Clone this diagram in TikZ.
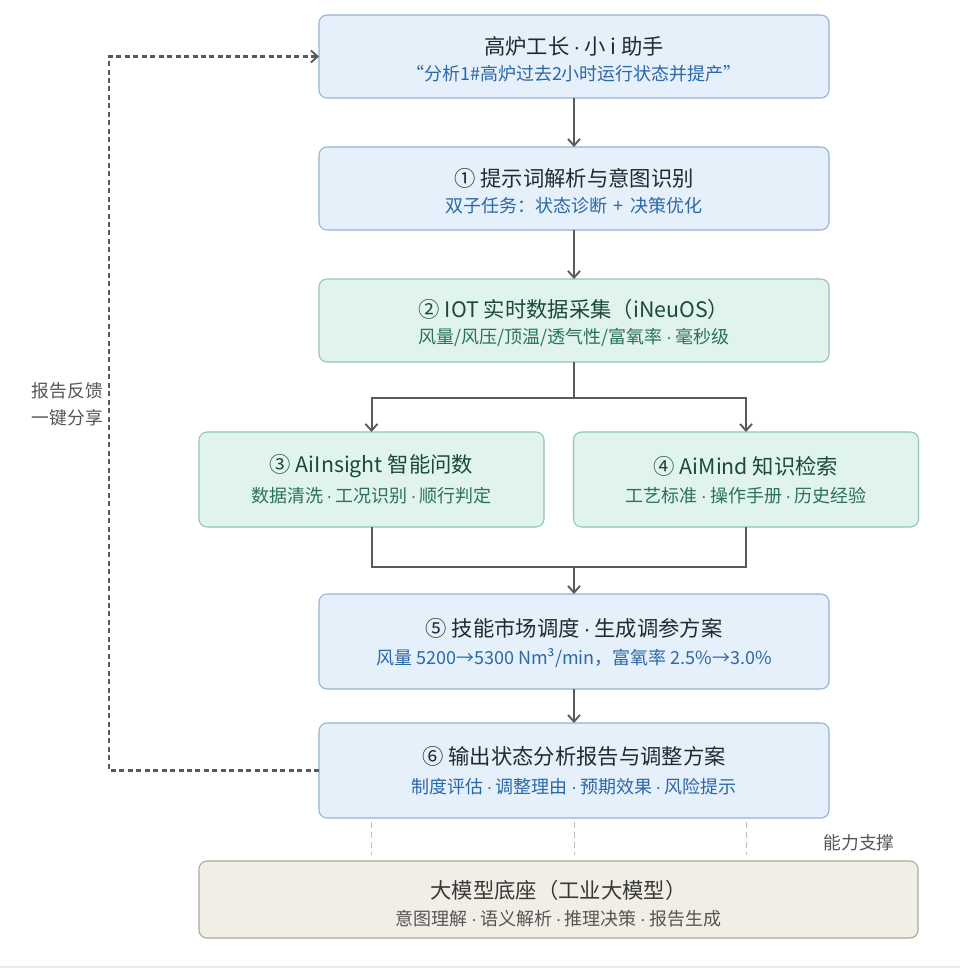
\documentclass[tikz,border=0pt]{standalone}
\usepackage{fontspec}
\setmainfont{Noto Sans CJK SC}
\newfontfamily\dotfont{Liberation Sans}
\newcommand{\md}{\hspace{0.18em}{\dotfont ·}\hspace{0.18em}}
\usetikzlibrary{arrows.meta,calc}
\definecolor{bfill}{HTML}{E6F0FA}
\definecolor{bdraw}{HTML}{8FB3DB}
\definecolor{btitle}{HTML}{1F2A36}
\definecolor{bsub}{HTML}{2B68A8}
\definecolor{gfill}{HTML}{E0F3EC}
\definecolor{gdraw}{HTML}{92C5AE}
\definecolor{gtitle}{HTML}{1B4A3A}
\definecolor{gsub}{HTML}{2A7355}
\definecolor{efill}{HTML}{F1EEE6}
\definecolor{edraw}{HTML}{ABA69E}
\definecolor{etitle}{HTML}{383838}
\definecolor{esub}{HTML}{555555}
\definecolor{lcol}{HTML}{5A5A5A}
\definecolor{lgray}{HTML}{BDBDBD}
\tikzset{
  boxbase/.style={rectangle,rounded corners=6pt,line width=0.8pt,inner sep=0pt,outer sep=0pt},
  bluebox/.style={boxbase,fill=bfill,draw=bdraw},
  greenbox/.style={boxbase,fill=gfill,draw=gdraw},
  beigebox/.style={boxbase,fill=efill,draw=edraw},
  widebox/.style={minimum width=382.5pt},
  halfbox/.style={minimum width=258.75pt,minimum height=71.25pt},
  ttl/.style={inner sep=0pt,font=\fontsize{16}{19}\selectfont},
  sbt/.style={inner sep=0pt,font=\fontsize{13.5}{16}\selectfont},
  lbl/.style={inner sep=0pt,font=\fontsize{13.3}{16}\selectfont,text=esub},
  lineonly/.style={draw=lcol,line width=1.5pt},
  conn/.style={lineonly,-{Straight Barb[length=5pt,width=9pt,line width=1.4pt]}},
  fback/.style={draw=lcol,line width=1.6pt,dash pattern=on 3.75pt off 2.6pt,-{Straight Barb[length=5pt,width=9pt,line width=1.4pt]}},
  supline/.style={draw=lgray,line width=0.75pt,dash pattern=on 4.5pt off 3pt}
}
\begin{document}
\begin{tikzpicture}[x=0.75pt,y=-0.75pt]
\useasboundingbox (0,0) rectangle (960,970);
\fill[white] (0,0) rectangle (960,970);
\draw[draw=black!8,line width=1.5pt] (0,967) -- (960,967);

% boxes
\node[bluebox,widebox,minimum height=62.25pt] (b0) at (574,56.5) {};
\node[bluebox,widebox,minimum height=62.25pt] (b1) at (574,188.5) {};
\node[greenbox,widebox,minimum height=62.25pt] (b2) at (574,320.5) {};
\node[greenbox,halfbox] (b3) at (371.5,479.5) {};
\node[greenbox,halfbox] (b4) at (746,479.5) {};
\node[bluebox,widebox,minimum height=71.25pt] (b5) at (574,641.5) {};
\node[bluebox,widebox,minimum height=71.25pt] (b6) at (574,770.5) {};
\node[beigebox,minimum width=539.25pt,minimum height=57.75pt] (b7) at (558.5,899.5) {};

% texts
\node[ttl,text=btitle] (t0) at (574,46) {高炉工长\md 小 i 助手};
\node[sbt,text=bsub] (s0) at (574,73.5) {“分析1\#高炉过去2小时运行状态并提产”};
\node[ttl,text=btitle] (t1) at (574,178) {① 提示词解析与意图识别};
\node[sbt,text=bsub] (s1) at (574,206) {双子任务：状态诊断\hspace{0.15em} + \hspace{0.15em}决策优化};
\node[ttl,text=gtitle] (t2) at (574,309) {② IOT 实时数据采集（iNeuOS）};
\node[sbt,text=gsub] (s2) at (574,337) {风量/风压/顶温/透气性/富氧率\md 毫秒级};
\node[ttl,text=gtitle] (t3) at (371.5,466) {③ AiInsight 智能问数};
\node[sbt,text=gsub] (s3) at (371.5,496) {数据清洗\md 工况识别\md 顺行判定};
\node[ttl,text=gtitle] (t4) at (746,466) {④ AiMind 知识检索};
\node[sbt,text=gsub] (s4) at (746,496) {工艺标准\md 操作手册\md 历史经验};
\node[ttl,text=btitle] (t5) at (574,628) {⑤ 技能市场调度\md 生成调参方案};
\node[sbt,text=bsub] (s5) at (574,658) {风量 5200→5300 Nm³/min，富氧率 2.5\%→3.0\%};
\node[ttl,text=btitle] (t6) at (574,756) {⑥ 输出状态分析报告与调整方案};
\node[sbt,text=bsub] (s6) at (574,787) {制度评估\md 调整理由\md 预期效果\md 风险提示};
\node[ttl,text=etitle] (t7) at (558.5,890) {大模型底座（工业大模型）};
\node[sbt,text=esub] (s7) at (558.5,919) {意图理解\md 语义解析\md 推理决策\md 报告生成};

% labels
\node[lbl,anchor=east] (l1) at (103,391) {报告反馈};
\node[lbl,anchor=east] (l2) at (103,418) {一键分享};
\node[lbl] (l3) at (859,843) {能力支撑};

% connectors
\draw[conn] (b0.south) -- (b1.north);
\draw[conn] (b1.south) -- (b2.north);
\coordinate (sp) at (574,398);
\draw[lineonly] (b2.south) -- (sp);
\draw[conn] (sp) -| (b3.north);
\draw[conn] (sp) -| (b4.north);
\coordinate (mg) at (574,567);
\draw[lineonly] (b3.south) |- (mg) -| (b4.south);
\draw[conn] (mg) -- (b5.north);
\draw[conn] (b5.south) -- (b6.north);

% feedback
\coordinate (fb) at (109,770.5);
\draw[fback] (b6.west) -- (fb) |- (b0.west);

% support lines
\foreach \xx in {371.5,574,746}{
  \draw[supline] (\xx,822) -- (\xx,855);
}
\end{tikzpicture}
\end{document}
